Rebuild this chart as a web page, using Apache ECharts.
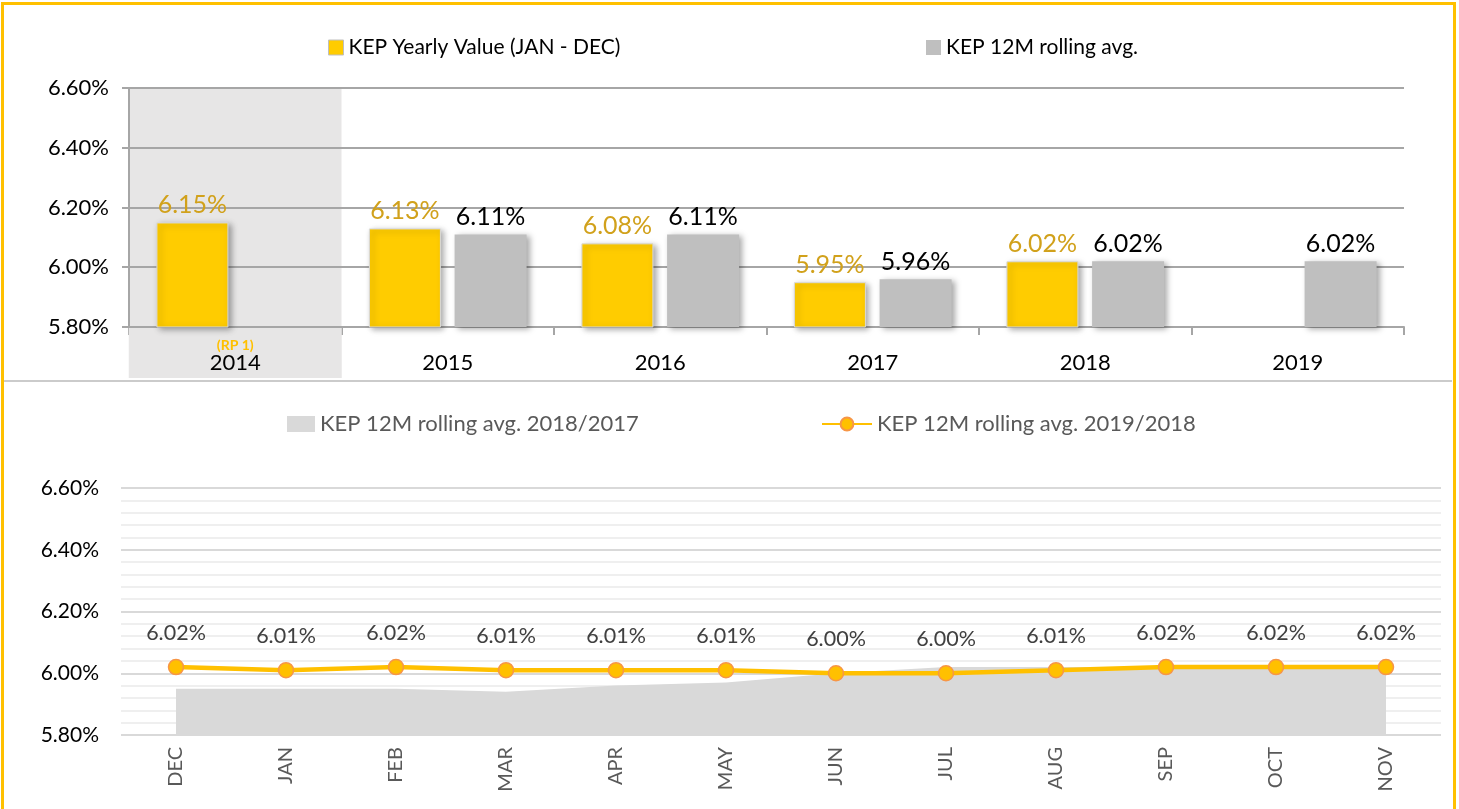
<!DOCTYPE html>
<html lang="en">
<head>
  <meta charset="UTF-8">
  <title>KEP</title>
  <style>
    html,body { width:100%; height:100%; margin:0; background:#fff; }
    #chart { position:absolute; left:0; top:0; width:1459px; height:809px; }
    #sep { position:absolute; left:4px; top:380px; width:1448px; height:2px; background:#CBCBCB; pointer-events:none; }
    #frame { position:absolute; left:1px; top:2px; width:1455px; height:840px; border:3px solid #FFC000; box-sizing:border-box; pointer-events:none; }
  </style>
</head>
<body>
  <div id="chart"></div>
  <div id="sep"></div>
  <div id="frame"></div>
  <script src="https://cdn.jsdelivr.net/npm/echarts@6/dist/echarts.min.js"></script>
  <script>
    // top chart
    var years = ['2014', '2015', '2016', '2017', '2018', '2019'];
    var yearlyValue = [6.15, 6.13, 6.08, 5.95, 6.02, null];
    var rollingAvg = [null, 6.11, 6.11, 5.96, 6.02, 6.02];
    // bottom chart
    var months = ['DEC', 'JAN', 'FEB', 'MAR', 'APR', 'MAY', 'JUN', 'JUL', 'AUG', 'SEP', 'OCT', 'NOV'];
    var rolling1817 = [5.95, 5.95, 5.95, 5.94, 5.96, 5.97, 6.00, 6.02, 6.02, 6.02, 6.02, 6.02];
    var rolling1918 = [6.02, 6.01, 6.02, 6.01, 6.01, 6.01, 6.00, 6.00, 6.01, 6.02, 6.02, 6.02];
    var yMin = 5.8, yMax = 6.6, yStep = 0.2;

    var FONT = 'Lato, sans-serif';
    var BAND = '#E7E6E6';
    var pct = function (v) { return Number(v).toFixed(2) + '%'; };

    var chart = echarts.init(document.getElementById('chart'));

    var option = {
      animation: false,
      textStyle: { fontFamily: FONT },
      legend: [
        { left: 323, top: 32, icon: 'rect', itemWidth: 15, itemHeight: 15, itemGap: 4,
          textStyle: { fontFamily: FONT, fontSize: 21, color: '#000' },
          data: [{ name: 'KEP Yearly Value (JAN - DEC)', itemStyle: { borderColor: '#BFBFBF', borderWidth: 1 } }] },
        { left: 921, top: 32, icon: 'rect', itemWidth: 15, itemHeight: 15, itemGap: 5,
          textStyle: { fontFamily: FONT, fontSize: 21, color: '#000' },
          data: ['KEP 12M rolling avg.'] },
        { left: 282, top: 408, icon: 'rect', itemWidth: 28, itemHeight: 16, itemGap: 5,
          textStyle: { fontFamily: FONT, fontSize: 22, color: '#595959' },
          data: ['KEP 12M rolling avg. 2018/2017'] },
        { left: 816, top: 408, itemWidth: 50, itemHeight: 16, itemGap: 6,
          textStyle: { fontFamily: FONT, fontSize: 22, color: '#595959' },
          data: ['KEP 12M rolling avg. 2019/2018'] }
      ],
      grid: [
        { left: 129, top: 88, width: 1275, height: 239, outerBoundsMode: 'none' },
        { left: 121, top: 488, width: 1320, height: 247, outerBoundsMode: 'none' }
      ],
      xAxis: [{
        gridIndex: 0,
        type: 'category',
        data: years,
        z: -1,
        axisLine: { lineStyle: { color: '#A6A6A6', width: 2 } },
        axisTick: { show: true, length: 8, lineStyle: { color: '#A6A6A6', width: 2 } },
        splitArea: { show: true, areaStyle: { color: [BAND, 'rgba(0,0,0,0)', 'rgba(0,0,0,0)', 'rgba(0,0,0,0)', 'rgba(0,0,0,0)', 'rgba(0,0,0,0)'] } },
        axisLabel: {
          interval: 0,
          margin: 0,
          formatter: function (v, i) {
            if (i === 0) return '{s1| }\n{rp|(RP 1)}\n{yb|' + v + '}\n{s2| }';
            return '{t1| }\n{e| }\n{yr|' + v + '}\n{t2| }';
          },
          rich: {
            s1: { width: 213, height: 9, lineHeight: 9, fontSize: 8, backgroundColor: BAND },
            rp: { width: 213, height: 18, lineHeight: 18, align: 'center', backgroundColor: BAND,
                  color: '#FFC000', fontWeight: 'bold', fontSize: 14, fontFamily: FONT },
            yb: { width: 213, height: 17, lineHeight: 17, align: 'center', backgroundColor: BAND,
                  color: '#000', fontSize: 22, fontFamily: FONT },
            s2: { width: 213, height: 7, lineHeight: 7, fontSize: 6, backgroundColor: BAND },
            t1: { height: 9, lineHeight: 9, fontSize: 8 },
            e: { height: 18, lineHeight: 18, fontSize: 14 },
            yr: { height: 17, lineHeight: 17, color: '#000', fontSize: 22, fontFamily: FONT },
            t2: { height: 7, lineHeight: 7, fontSize: 6 }
          }
        }
      }, {
        gridIndex: 1,
        type: 'category',
        data: months,
        axisLine: { show: false },
        axisTick: { show: false },
        axisLabel: { interval: 0, rotate: 90, margin: 12, color: '#595959', fontSize: 20, fontFamily: FONT }
      }],
      yAxis: [{
        gridIndex: 0,
        type: 'value',
        min: yMin, max: yMax, interval: yStep,
        axisLine: { show: true, lineStyle: { color: '#A6A6A6', width: 2 } },
        axisTick: { show: true, length: 7, lineStyle: { color: '#A6A6A6', width: 2 } },
        splitLine: { lineStyle: { color: '#A6A6A6', width: 2 } },
        axisLabel: { formatter: pct, color: '#000', fontSize: 22, margin: 20, fontFamily: FONT }
      }, {
        gridIndex: 1,
        type: 'value',
        min: yMin, max: yMax, interval: yStep,
        axisLine: { show: false },
        axisTick: { show: false },
        splitLine: { lineStyle: { color: '#D9D9D9', width: 2 } },
        minorTick: { show: false, splitNumber: 5 },
        minorSplitLine: { show: true, lineStyle: { color: '#EFEFEF', width: 2 } },
        axisLabel: { formatter: pct, color: '#000', fontSize: 21, margin: 22, fontFamily: FONT }
      }],
      series: [{
        name: 'KEP Yearly Value (JAN - DEC)',
        type: 'bar',
        xAxisIndex: 0, yAxisIndex: 0,
        data: yearlyValue,
        barWidth: 72,
        barGap: '19%',
        itemStyle: { color: '#FFCC00', borderColor: '#D9D9D9', borderWidth: 1,
                     shadowColor: 'rgba(0,0,0,0.35)', shadowBlur: 6, shadowOffsetX: 3, shadowOffsetY: 2 },
        label: { show: true, position: 'top', distance: 5, formatter: function (p) { return pct(p.value); },
                 color: '#D1A11B', fontSize: 25, fontFamily: FONT }
      }, {
        name: 'KEP 12M rolling avg.',
        type: 'bar',
        xAxisIndex: 0, yAxisIndex: 0,
        data: rollingAvg,
        barWidth: 72,
        itemStyle: { color: '#BFBFBF',
                     shadowColor: 'rgba(0,0,0,0.35)', shadowBlur: 6, shadowOffsetX: 3, shadowOffsetY: 2 },
        label: { show: true, position: 'top', distance: 5, formatter: function (p) { return pct(p.value); },
                 color: '#000', fontSize: 25, fontFamily: FONT }
      }, {
        name: 'KEP 12M rolling avg. 2018/2017',
        type: 'line',
        xAxisIndex: 1, yAxisIndex: 1,
        data: rolling1817,
        symbol: 'none',
        lineStyle: { width: 0, color: '#D9D9D9' },
        itemStyle: { color: '#D9D9D9' },
        areaStyle: { color: '#D9D9D9', opacity: 1 }
      }, {
        name: 'KEP 12M rolling avg. 2019/2018',
        type: 'line',
        xAxisIndex: 1, yAxisIndex: 1,
        data: rolling1918,
        symbol: 'circle',
        symbolSize: 15,
        lineStyle: { width: 4.5, color: '#FFC000' },
        itemStyle: { color: '#FFC000', borderColor: '#F79646', borderWidth: 1.5 },
        label: { show: true, position: 'top', distance: 15, formatter: function (p) { return pct(p.value); },
                 color: '#404040', fontSize: 21.5, fontFamily: FONT }
      }]
    };

    chart.setOption(option);
  </script>
</body>
</html>
